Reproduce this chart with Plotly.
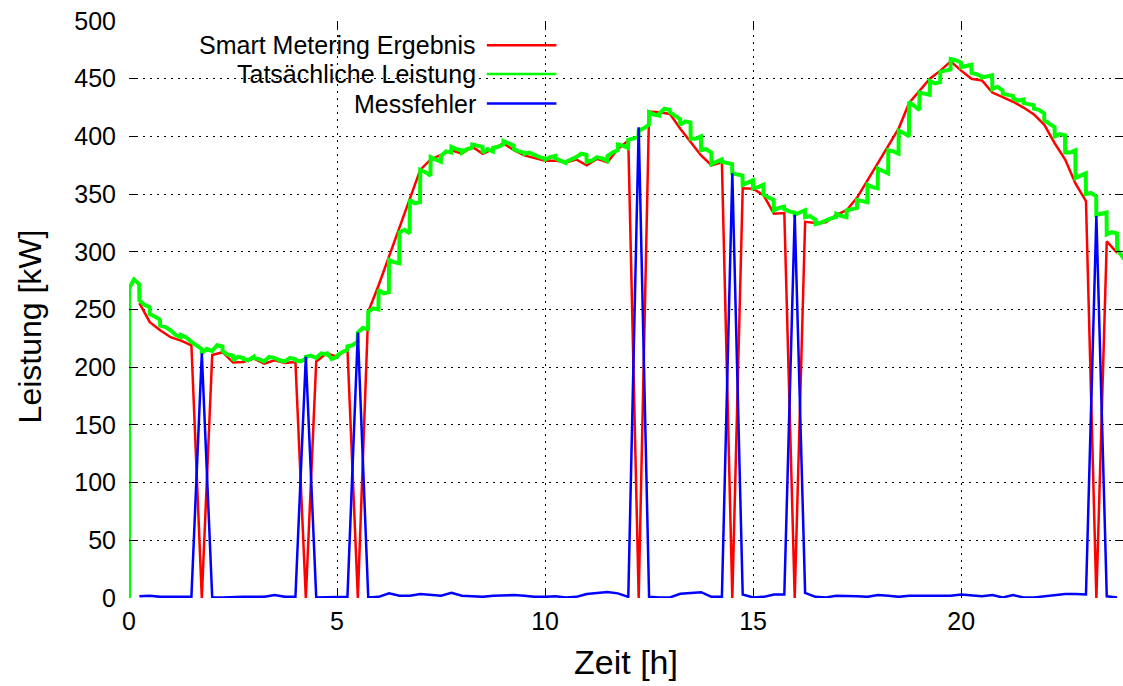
import plotly.graph_objects as go

# ---- data ----
# sample times of the smart meter (every 15 min)
t_samples = [0.25 * k for k in range(1, 96)]

smart_meter = [255.5, 239, 232, 226, 223, 219, 0, 210.5, 213, 204, 204.6, 207.5, 203, 206, 203.7,
               204.6, 0, 205, 212, 209, 216, 0, 248, 271, 296, 321, 346, 371, 380, 384,
               388, 385, 391, 385, 389, 394, 388, 383.5, 381, 379, 379, 377.5, 380, 375, 380.5,
               377.5, 389, 396.5, 0, 421.5, 421, 419.5, 406.7, 395, 383.5, 375, 377.5, 0, 355,
               354.7, 349, 333, 333.6, 0, 326, 325, 325.5, 332, 336, 347, 362, 376, 392, 407,
               429, 440, 450, 457, 465, 457, 450, 448.5, 438, 434, 430, 425, 419, 410, 394,
               380, 359, 344, 0, 309, 299]

measurement_error = [1.5, 2, 1, 1, 1, 1, 212, 0.5, 0.5, 1, 1, 1, 1, 2.5, 1,
                     1, 209, 0.5, 0.5, 1, 1, 230, 0.5, 1, 4, 2, 2, 3.5, 3, 2,
                     4.5, 2, 1.5, 1, 2, 2.5, 2.5, 2, 1, 1, 1.5, 0.5, 1, 3.5, 4.5,
                     5.2, 4, 1, 408, 1, 0.5, 0.5, 3.7, 4.5, 5, 1, 1, 368, 3,
                     0.5, 1, 3, 3, 332, 4.5, 1, 0.5, 2, 2, 1.5, 1, 2.5, 2, 1,
                     2, 2, 2, 2, 2, 3, 2, 1.5, 2.5, 0.5, 2.5, 0.5, 0.5, 1.5, 2.5,
                     3.5, 3.5, 3, 331, 1.5, 0.5]

# actual power: value at the start, middle and end of each 15-min interval (0 .. 23.75 h)
actual_start = [268, 258, 246, 236, 232, 228, 222, 212, 214, 214, 206, 207, 208, 205, 208, 205,
                206, 209, 208, 213, 210, 218, 230, 248, 267, 293, 317, 345, 371, 382, 383, 391,
                386, 393, 386, 390, 396, 389, 385, 383, 380, 381, 378, 382, 378, 382, 383, 393,
                397, 405, 421, 420, 421, 410, 398, 388, 376, 378, 368, 358, 355, 350, 336, 337,
                332, 330, 324, 327, 333, 336, 345, 358, 372, 388, 405, 430, 438, 448, 456, 467,
                460, 455, 451, 441, 437, 433, 429, 424, 414, 400, 386, 364, 350, 332, 315, 302]
actual_mid = [276, 254, 244, 235, 228, 226, 219, 216, 219, 211, 209, 206, 207, 209, 206, 208,
              205, 210, 212, 207, 213, 219, 234, 251, 264, 291, 319, 342, 369, 380, 387, 389,
              389, 392, 389, 391, 394, 387, 386, 382, 382, 379, 380, 385, 379, 381, 386, 392,
              398, 407, 419, 424, 418, 413, 398, 389, 378, 377, 367, 360, 356, 347, 338, 335,
              334, 331, 325, 329, 331, 337, 344, 356, 370, 387, 403, 426, 437, 446, 457, 466,
              461, 454, 452, 443, 436, 431, 428, 423, 411, 402, 386, 366, 351, 333, 317, 296]
actual_end = [272, 252, 241, 232, 226, 222, 216, 214, 218, 210, 208, 209, 205, 208, 205, 207,
              207, 208, 211, 209, 215, 222, 233, 250, 265, 290, 316, 343, 366, 378, 386, 388,
              390, 391, 387, 393, 392, 386, 384, 381, 383, 377, 382, 384, 382, 379, 388, 390,
              400, 410, 418, 423, 415, 412, 400, 386, 380, 376, 366, 362, 358, 345, 339, 334,
              336, 328, 327, 330, 330, 338, 343, 355, 368, 385, 400, 423, 436, 447, 458, 464,
              462, 452, 453, 440, 435, 432, 427, 420, 408, 401, 388, 368, 348, 334, 316, 290]

series_names = ["Smart Metering Ergebnis", "Tatsächliche Leistung", "Messfehler"]
series_colors = ["#ff0000", "#00ff00", "#0000ff"]

x_ticks = [0, 5, 10, 15, 20]
y_ticks = [0, 50, 100, 150, 200, 250, 300, 350, 400, 450, 500]

FONT = "Liberation Sans, Arial, sans-serif"

# ---- build the actual-power curve ----
act_t = [0.0]
act_v = [0.0]
for k, (a, m, b) in enumerate(zip(actual_start, actual_mid, actual_end)):
    act_t += [0.25 * k, 0.25 * k + 0.12, 0.25 * k + 0.245]
    act_v += [a, m, b]

fig = go.Figure()
fig.add_trace(go.Scatter(x=t_samples, y=smart_meter, mode="lines", name=series_names[0],
                         line=dict(color=series_colors[0], width=2.5)))
fig.add_trace(go.Scatter(x=act_t, y=act_v, mode="lines", name=series_names[1],
                         line=dict(color=series_colors[1], width=4)))
fig.add_trace(go.Scatter(x=t_samples, y=measurement_error, mode="lines", name=series_names[2],
                         line=dict(color=series_colors[2], width=2.5)))

# gnuplot-style key: text right-aligned, sample line on the right
key_y = [0.958, 0.908, 0.857]
for name, col, yy in zip(series_names, series_colors, key_y):
    fig.add_annotation(x=0.351, y=yy, xref="paper", yref="paper", text=name, showarrow=False,
                       xanchor="right", yanchor="middle",
                       font=dict(family=FONT, size=25, color="black"))
    fig.add_shape(type="line", xref="paper", yref="paper", x0=0.360, x1=0.430, y0=yy, y1=yy,
                  line=dict(color=col, width=2.5))

# y-axis title (placed like the original, slightly below the plot centre)
fig.add_annotation(x=-0.100, y=0.47, xref="paper", yref="paper", text="Leistung [kW]",
                   showarrow=False, textangle=-90, xanchor="center", yanchor="middle",
                   font=dict(family=FONT, size=32, color="black"))

axis_common = dict(
    showgrid=True, gridcolor="black", griddash="2px,5px", gridwidth=1.2,
    zeroline=False, showline=False,
    ticks="inside", ticklen=8, tickcolor="black", tickwidth=1,
    mirror="ticks",
    tickfont=dict(family=FONT, size=25, color="black"),
)

fig.update_layout(
    width=1123, height=686,
    margin=dict(l=129, r=0, t=21, b=88),
    plot_bgcolor="white", paper_bgcolor="white",
    showlegend=False,
    xaxis=dict(range=[0, 23.89], tickvals=x_ticks, ticklabelstandoff=6,
               title=dict(text="Zeit [h]", standoff=16,
                          font=dict(family=FONT, size=34, color="black")),
               **axis_common),
    yaxis=dict(range=[0, 500], tickvals=y_ticks, ticklabelstandoff=12, **axis_common),
)

fig.write_html("out.html")
